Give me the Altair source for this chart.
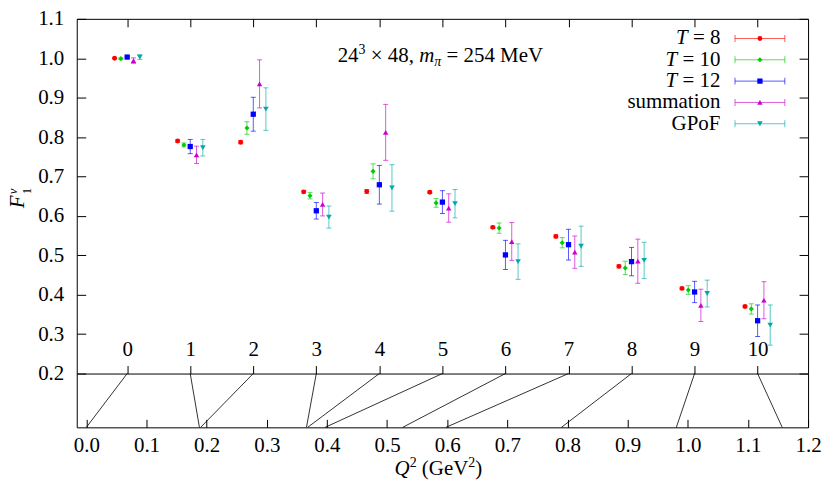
import altair as alt
import pandas as pd

# ---------------- data ----------------
IDX = list(range(11))
Q2 = [0.0, 0.188, 0.190, 0.366, 0.368, 0.397, 0.526, 0.598, 0.790, 0.981, 1.157]
SERIES = ["T = 8", "T = 10", "T = 12", "summation", "GPoF"]

T8 = [1.000, 0.790, 0.787, 0.661, 0.662, 0.660, 0.571, 0.548, 0.472, 0.416, 0.370]
T8E = [0.001, 0.003, 0.004, 0.003, 0.005, 0.003, 0.003, 0.004, 0.004, 0.003, 0.003]
T10 = [0.999, 0.780, 0.823, 0.651, 0.713, 0.633, 0.569, 0.532, 0.468, 0.412, 0.364]
T10E = [0.002, 0.005, 0.016, 0.008, 0.019, 0.011, 0.013, 0.013, 0.017, 0.011, 0.013]
T12 = [1.003, 0.776, 0.858, 0.613, 0.679, 0.635, 0.501, 0.527, 0.484, 0.407, 0.334]
T12E = [0.002, 0.018, 0.043, 0.021, 0.049, 0.029, 0.037, 0.039, 0.036, 0.027, 0.040]
SUMM = [0.994, 0.755, 0.935, 0.629, 0.812, 0.620, 0.535, 0.508, 0.485, 0.373, 0.386]
SUMME = [0.007, 0.022, 0.061, 0.029, 0.071, 0.036, 0.048, 0.041, 0.056, 0.041, 0.047]
GPOF = [1.003, 0.773, 0.871, 0.597, 0.671, 0.631, 0.484, 0.523, 0.487, 0.403, 0.323]
GPOFE = [0.006, 0.021, 0.054, 0.028, 0.059, 0.036, 0.045, 0.051, 0.046, 0.034, 0.051]

OFFSETS = [-0.2, -0.1, 0.0, 0.1, 0.2]
YTICKS = [0.2, 0.3, 0.4, 0.5, 0.6, 0.7, 0.8, 0.9, 1.0, 1.1]
QTICKS = [0.0, 0.1, 0.2, 0.3, 0.4, 0.5, 0.6, 0.7, 0.8, 0.9, 1.0, 1.1, 1.2]

# ---------------- styles ----------------
COLORS = ["#ff0000", "#00cc00", "#0000ff", "#cc00cc", "#00aaaa"]
SHAPES = ["circle", "diamond", "square", "triangle-up", "triangle-down"]
MSIZES = [24, 32, 26, 30, 30]
FONT = "Liberation Serif"
FS = 21

W, H = 734, 410
ILO, IHI = -0.8, 10.8
QLO, QHI = -0.016, 1.2
YLO, YHI = 0.0635, 1.1
YSPLIT = 0.2

vals = [T8, T10, T12, SUMM, GPOF]
errs = [T8E, T10E, T12E, SUMME, GPOFE]
rows = []
for s, off, v, e in zip(SERIES, OFFSETS, vals, errs):
    for i, vv, ee in zip(IDX, v, e):
        rows.append({"series": s, "idx": i, "xpos": i + off, "val": vv,
                     "lo": vv - ee, "hi": vv + ee})
df = pd.DataFrame(rows)
dmap = pd.DataFrame({"idx": IDX, "q2": Q2})

xs_idx = alt.Scale(domain=[ILO, IHI], nice=False, zero=False)
xs_q = alt.Scale(domain=[QLO, QHI], nice=False, zero=False)
ys = alt.Scale(domain=[YLO, YHI], nice=False, zero=False)
cscale = alt.Scale(domain=SERIES, range=COLORS)
sscale = alt.Scale(domain=SERIES, range=SHAPES)
zscale = alt.Scale(domain=SERIES, range=MSIZES)
color = alt.Color("series:N", scale=cscale, legend=None)
shape = alt.Shape("series:N", scale=sscale, legend=None)
msize = alt.Size("series:N", scale=zscale, legend=None)

AXF = dict(labelFont=FONT, labelFontSize=FS, labelColor="black", tickColor="black",
           domainColor="black", grid=False, title=None)
ax_top_ticks = alt.Axis(orient="top", offset=-8, tickSize=8, labels=False, domain=False,
                        values=IDX, **AXF)
ax_idx_labels = alt.Axis(orient="top", offset=-356, tickSize=8, labelPadding=6, labelFlush=False,
                         labelOverlap=False, domain=True, values=IDX, format="d",
                         labelAngle=0, **AXF)
ax_left_labels = alt.Axis(orient="left", tickSize=0, labelPadding=13, domain=False,
                          values=YTICKS, format=".1f", labelFlush=False, labelOverlap=False, **AXF)
ax_left_ticks = alt.Axis(orient="left", offset=-9, tickSize=9, labels=False, domain=False,
                         values=YTICKS, **AXF)
ax_right_ticks = alt.Axis(orient="right", offset=-9, tickSize=9, labels=False, domain=False,
                          values=YTICKS, **AXF)
ax_q_ticks = alt.Axis(orient="bottom", offset=-8, tickSize=8, labels=False, domain=False,
                      values=QTICKS, **AXF)
ax_q_labels = alt.Axis(orient="bottom", tickSize=0, labelPadding=7, domain=False,
                       values=QTICKS, format=".1f", labelFlush=False, labelOverlap=False, **AXF)

base = alt.Chart(df)
err = base.mark_rule(strokeWidth=1, opacity=0.65).encode(
    x=alt.X("xpos:Q", scale=xs_idx, axis=ax_top_ticks),
    y=alt.Y("lo:Q", scale=ys, axis=ax_left_labels),
    y2="hi:Q", color=color)
caplo = base.mark_tick(orient="horizontal", size=5, thickness=1, opacity=0.65).encode(
    x=alt.X("xpos:Q", scale=xs_idx, axis=ax_idx_labels),
    y=alt.Y("lo:Q", scale=ys, axis=ax_left_ticks), color=color)
caphi = base.mark_tick(orient="horizontal", size=5, thickness=1, opacity=0.65).encode(
    x=alt.X("xpos:Q", scale=xs_idx, axis=None),
    y=alt.Y("hi:Q", scale=ys, axis=ax_right_ticks), color=color)
pts = base.mark_point(filled=True, opacity=1, strokeWidth=0).encode(
    x=alt.X("xpos:Q", scale=xs_idx, axis=None),
    y=alt.Y("val:Q", scale=ys, axis=None), color=color, shape=shape, size=msize)

mapl = alt.Chart(dmap).transform_calculate(
    qi=f"{QLO} + (datum.idx - ({ILO})) / ({IHI} - ({ILO})) * ({QHI} - ({QLO}))",
    ybot=f"{YLO}", ytop=f"{YSPLIT}",
).mark_rule(color="black", strokeWidth=0.8).encode(
    x=alt.X("q2:Q", scale=xs_q, axis=ax_q_ticks), x2="qi:Q",
    y=alt.Y("ybot:Q", scale=ys, axis=None), y2="ytop:Q")
mapaxis = alt.Chart(dmap).mark_point(opacity=0).encode(
    x=alt.X("q2:Q", scale=xs_q, axis=ax_q_labels))

# ---------------- legend ----------------
WID = {'0': .5, '1': .5, '2': .5, '3': .5, '4': .5, '5': .5, '6': .5, '7': .5, '8': .5, '9': .5,
       ' ': .25, '×': .564, ',': .25, '=': .564, 'M': .889, 'e': .444, 'V': .722, 'm': .778,
       'π': .549, '(': .333, ')': .333, 'G': .722, 'Q': .722, 'T': .611, 's': .389, 'u': .5,
       'a': .444, 't': .278, 'i': .278, 'o': .5, 'n': .5, 'P': .556, 'F': .556, 'v': .5, '.': .25}
WID_IT = {'m': .722, 'T': .556, 'Q': .722, 'F': .611, 'v': .444, 'π': .5}


def tw(s, size, italic=False):
    return sum((WID_IT.get(c, WID.get(c, .5)) if italic else WID.get(c, .5)) for c in s) * size


pre, main, prex = [], [], []
for s in SERIES:
    if s.startswith("T "):
        p, m = "T", s[2:]
    else:
        p, m = "", s
    pre.append(p)
    main.append(m)
    prex.append(646 - tw(m, FS) - 0.25 * FS)
dleg = pd.DataFrame({"series": SERIES, "pre": pre, "main": main, "prex": prex})
yleg = alt.Y("series:N", scale=alt.Scale(type="point", domain=SERIES, range=[19.7, 105.3], padding=0),
             axis=None)
lb = alt.Chart(dleg)
leg_line = lb.mark_rule(strokeWidth=1, opacity=0.65).encode(
    x=alt.value(660.7), x2=alt.value(710.7), y=yleg, color=color)
leg_cap1 = lb.mark_tick(orient="vertical", size=7, thickness=1, opacity=0.65).encode(
    x=alt.value(660.7), y=yleg, color=color)
leg_cap2 = lb.mark_tick(orient="vertical", size=7, thickness=1, opacity=0.65).encode(
    x=alt.value(710.7), y=yleg, color=color)
leg_pts = lb.mark_point(filled=True, opacity=1, strokeWidth=0).encode(
    x=alt.value(685.7), y=yleg, color=color, shape=shape, size=msize)
leg_txt = lb.mark_text(align="right", baseline="middle", font=FONT, fontSize=FS, color="black").encode(
    x=alt.value(646), y=yleg, text="main:N")
leg_pre = lb.mark_text(align="right", baseline="middle", font=FONT, fontSize=FS, fontStyle="italic",
                       color="black").encode(
    x=alt.X("prex:Q", scale=None), y=yleg, text="pre:N")

# ---------------- text annotations ----------------
one = pd.DataFrame({"k": [0]})


def txt(s, x, y, size=FS, italic=False, angle=0, align="left"):
    kw = dict(text=s, font=FONT, fontSize=size, align=align, baseline="alphabetic", color="black")
    if italic:
        kw["fontStyle"] = "italic"
    if angle:
        kw["angle"] = angle
    return alt.Chart(one).mark_text(**kw).encode(x=alt.value(x), y=alt.value(y))


def run(pieces, xc, yb):
    total = sum(tw(s, size, it) for s, size, it, sh in pieces)
    x = xc - total / 2
    out = []
    for s, size, it, sh in pieces:
        lead = len(s) - len(s.lstrip(" "))
        core = s.strip(" ")
        out.append(txt(core, x + lead * 0.25 * size, yb + sh, size, it))
        x += tw(s, size, it)
    return out


ann = run([("24", FS, False, 0), ("3", 14, False, -8), (" × 48, ", FS, False, 0),
           ("m", FS, True, 0), ("π", 14, True, 4), (" = 254 MeV", FS, False, 0)], 365, 43.5)
qtitle = run([("Q", FS, True, 0), ("2", 14, False, -8), (" (GeV", FS, False, 0),
              ("2", 14, False, -8), (")", FS, False, 0)], 363, 458)
ytitle = [txt("F", -53, 190, FS, True, 270), txt("1", -46, 176, 13, False, 270),
          txt("v", -60, 176, 13, True, 270)]

chart = alt.layer(
    err, caplo, caphi, pts, mapl, mapaxis,
    leg_line, leg_cap1, leg_cap2, leg_pts, leg_txt, leg_pre,
    *ann, *qtitle, *ytitle,
).resolve_scale(x="independent", y="independent").resolve_axis(
    x="independent", y="independent"
).properties(
    width=W, height=H,
    autosize=alt.AutoSizeParams(type="none"),
    padding={"left": 69, "top": 10, "right": 14, "bottom": 60},
).configure_axis(
    labelFont=FONT, labelFontSize=FS, labelColor="black", tickColor="black",
    domainColor="black", tickWidth=1, domainWidth=1,
).configure_text(font=FONT).configure_view(stroke="black", strokeWidth=1)

chart.save("out.html", embed_options={"renderer": "svg", "actions": False})
